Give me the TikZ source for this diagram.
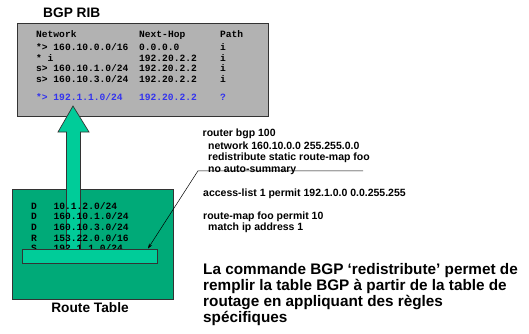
\documentclass[tikz,border=0pt]{standalone}
\usepackage{fontspec}
\setmainfont{Liberation Sans}
\newfontfamily\tablefont{Liberation Mono}
\usetikzlibrary{arrows.meta}
\definecolor{ribgray}{RGB}{178,178,178}
\definecolor{rtgreen}{RGB}{0,170,120}
\definecolor{bargreen}{RGB}{0,204,153}
\definecolor{ribblue}{RGB}{51,51,238}
\newcommand{\ribrow}[3]{\makebox[103pt][l]{#1}\makebox[81pt][l]{#2}#3}
\newcommand{\rtrow}[2]{\makebox[22.5pt][l]{#1}#2}

\begin{document}
\begin{tikzpicture}[x=1pt,y=-1pt,
      box/.style={draw=black!80,line width=0.7pt,inner sep=0pt},
      tabrow/.style={anchor=base west,inner sep=0pt,font=\tablefont\bfseries\fontsize{9.6}{11}\selectfont},
      cfg/.style={anchor=base west,inner sep=0pt,font=\bfseries\fontsize{10.5}{12}\selectfont},
      note/.style={anchor=base west,inner sep=0pt,font=\bfseries\fontsize{15.3}{16}\selectfont},
      title/.style={inner sep=0pt,font=\bfseries\fontsize{13.7}{15}\selectfont},
      post/.style={-{Stealth[length=5pt,width=3.5pt]},line width=0.5pt}
      ]
      \useasboundingbox (0,0) rectangle (529,333);

      % BGP table
      \node[box,fill=ribgray,minimum width=251pt,minimum height=93pt,anchor=north west] (rib) at (17,23) {};
      \node[title,anchor=base west] (ribtitle) at (43,17.5) {BGP RIB};
      \node[tabrow] (rib0) at (36,37.5) {\ribrow{Network}{Next-Hop}{Path}};
      \node[tabrow] (rib1) at (36,50.5) {\ribrow{*> 160.10.0.0/16}{0.0.0.0}{i}};
      \node[tabrow] (rib2) at (36,61) {\ribrow{* i}{192.20.2.2}{i}};
      \node[tabrow] (rib3) at (36,71.5) {\ribrow{s> 160.10.1.0/24}{192.20.2.2}{i}};
      \node[tabrow] (rib4) at (36,82) {\ribrow{s> 160.10.3.0/24}{192.20.2.2}{i}};
      \node[tabrow,text=ribblue] (rib5) at (36,100.5) {\ribrow{*> 192.1.1.0/24}{192.20.2.2}{?}};

      % route table
      \node[box,fill=rtgreen,minimum width=161pt,minimum height=110pt,anchor=north west] (rt) at (12,189) {};
      \draw[box,fill=bargreen] (66.5,256) -- (66.5,132) -- (58,132) -- (73,106)
        -- (89,132) -- (80.5,132) -- (80.5,256) -- cycle;
      \node[tabrow] (rt1) at (31,209) {\rtrow{D}{10.1.2.0/24}};
      \node[tabrow] (rt2) at (31,219.7) {\rtrow{D}{160.10.1.0/24}};
      \node[tabrow] (rt3) at (31,230.4) {\rtrow{D}{160.10.3.0/24}};
      \node[tabrow] (rt4) at (31,241) {\rtrow{R}{153.22.0.0/16}};
      \node[tabrow] (rt5) at (31,251.7) {\rtrow{S}{192.1.1.0/24}};
      \node[box,fill=bargreen,minimum width=135pt,minimum height=14pt,anchor=north west] (rtbar) at (21.5,249.3) {};
      \node[title,anchor=base] (rtlabel) at (90,312) {Route Table};

      % config
      \node[cfg] (cfg1) at (202.5,136.7) {router bgp 100};
      \node[cfg] (cfg2) at (208,149) {network 160.10.0.0 255.255.0.0};
      \node[cfg] (cfg3) at (208,160.7) {redistribute static route-map foo};
      \node[cfg] (cfg4) at (208,172) {no auto-summary};
      \node[cfg] (cfg5) at (203,196.7) {access-list 1 permit 192.1.0.0 0.0.255.255};
      \node[cfg] (cfg6) at (203,219) {route-map foo permit 10};
      \node[cfg] (cfg7) at (208,230) {match ip address 1};

      \coordinate (lineend) at (363,170.8);
      \coordinate (linebend) at (198,170.8);
      \coordinate (hit) at (148,248.5);
      \draw[post] (lineend) -- (linebend) -- (hit);

      % note
      \node[note] (note1) at (203,274) {La commande BGP ‘redistribute’ permet de};
      \node[note] (note2) at (203,290) {remplir la table BGP à partir de la table de};
      \node[note] (note3) at (203,306) {routage en appliquant des règles};
      \node[note] (note4) at (203,322) {spécifiques};
\end{tikzpicture}
\end{document}
